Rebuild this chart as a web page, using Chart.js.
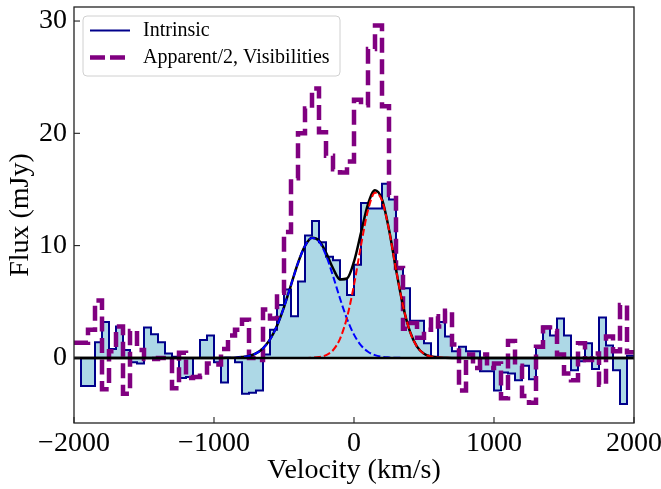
<!DOCTYPE html>
<html><head><meta charset="utf-8">
<script src="https://cdn.jsdelivr.net/npm/chart.js@4.4.0/dist/chart.umd.min.js"></script>
<style>html,body{margin:0;padding:0;background:#fff;}canvas{display:block;}</style>
</head><body>
<canvas id="c" width="661" height="489"></canvas>
<script>
// ---- data (velocities in km/s, flux in mJy) ----
const intrinsicEdges = [-1950,-1900,-1850,-1800,-1750,-1700,-1650,-1600,-1550,-1500,-1450,-1400,-1350,-1300,-1250,-1200,-1150,-1100,-1050,-1000,
 -950,-900,-850,-800,-750,-700,-650,-600,-550,-500,-450,-400,-350,-300,-250,-200,-150,-100,-50,0,
 50,100,150,200,250,300,350,400,450,500,550,600,650,700,750,800,850,900,950,1000,
 1050,1100,1150,1200,1250,1300,1350,1400,1450,1500,1550,1600,1650,1700,1750,1800,1850,1900,1950];
const intrinsicFlux = [-2.5,-2.5,1.4,3.2,0.8,2.8,0.7,-0.4,-0.5,2.7,2.1,1.4,0.4,0.1,-1.8,-1.7,0.0,1.6,2.0,-0.4,
 -2.2,0.0,-0.4,-3.2,-3.1,-2.9,0.3,2.5,4.7,6.1,3.7,6.8,10.9,12.2,10.3,9.0,8.7,7.0,5.6,8.3,
 13.8,13.3,13.3,15.5,14.1,8.0,6.2,3.3,3.3,1.3,0.1,3.2,1.9,0.6,1.0,0.6,0.6,-1.2,-1.2,-2.9,
 -1.3,-1.4,-2.0,-0.7,-1.9,0.9,2.8,2.0,3.5,2.0,-1.1,-0.3,1.3,-1.0,3.6,1.1,-1.1,-4.1,0.2];
const apparentEdges = [-2000,-1950,-1900,-1850,-1800,-1750,-1700,-1650,-1600,-1550,-1500,-1450,-1400,-1350,-1300,-1250,-1200,-1150,-1100,-1050,-1000,
 -950,-900,-850,-800,-750,-700,-650,-600,-550,-500,-450,-400,-350,-300,-250,-200,-150,-100,-50,0,
 50,100,150,200,250,300,350,400,450,500,550,600,650,700,750,800,850,900,950,1000,
 1050,1100,1150,1200,1250,1300,1350,1400,1450,1500,1550,1600,1650,1700,1750,1800,1850,1900,1950];
const apparentHalfFlux = [1.35,1.35,2.5,5.1,-2.8,0.6,2.8,-3.2,2.4,0.7,-0.1,-0.1,0.0,0.0,-2.7,0.45,-1.8,-1.7,-1.6,-0.5,-0.6,
 0.8,2.0,2.5,3.4,0.0,-0.2,4.3,3.5,5.8,11.2,16.0,20.0,22.2,24.0,20.1,18.0,16.8,16.5,17.5,23.0,
 22.5,27.5,29.6,22.4,14.5,8.0,2.6,3.1,1.8,2.5,3.7,2.8,4.2,1.2,-2.9,0.3,-0.9,0.3,-0.9,-0.5,
 -3.6,1.5,-0.7,-3.4,-4.0,1.0,2.7,2.4,0.3,-1.4,-2.0,1.3,-0.2,0.4,-2.4,1.9,0.6,4.7,0.5];
const binWidth = 50;

const fitVelocity = [-2000,-1000,-950,-900,-850,-800,-750,-700,-650,-600,-550,-500,-450,-400,-350,-300,-250,-200,-150,-100,-50,
 0,50,100,150,200,250,300,350,400,450,500,550,600,650,700,2000];
const fitBlueComp = [0,0,0,0.01,0.02,0.07,0.17,0.40,0.85,1.64,2.86,4.52,6.49,8.45,9.97,10.68,10.37,9.13,7.30,5.29,3.47,
 2.07,1.12,0.55,0.24,0.10,0.04,0.01,0,0,0,0,0,0,0,0,0];
const fitRedComp = [0,0,0,0,0,0,0,0,0,0,0,0,0,0,0,0.02,0.07,0.24,0.68,1.70,3.60,
 6.50,10.02,13.15,14.70,14.01,11.39,7.88,4.65,2.33,1.00,0.36,0.12,0.03,0.01,0,0];
const fitTotal = [0,0,0,0.01,0.02,0.07,0.17,0.40,0.85,1.64,2.86,4.52,6.49,8.45,9.97,10.70,10.44,9.37,7.98,6.99,7.07,
 8.57,11.14,13.70,14.94,14.11,11.43,7.89,4.65,2.33,1.00,0.36,0.12,0.03,0.01,0,0];

const xTicks = [-2000,-1000,0,1000,2000];
const xTickLabels = ['\u22122000','\u22121000','0','1000','2000'];
const yTicks = [0,10,20,30];
const yTickLabels = ['0','10','20','30'];
const xRange = [-2000, 2000];
const yRange = [-5.8, 31.25];

// ---- build step paths from the bins (value i spans edge i .. edge i + binWidth) ----
function stepPoints(edges, vals, closeToZero){
  const pts = [];
  if (closeToZero) pts.push({x: edges[0], y: 0});
  for (let i = 0; i < edges.length; i++) pts.push({x: edges[i], y: vals[i]});
  const last = edges[edges.length-1] + binWidth;
  pts.push({x: last, y: vals[vals.length-1]});
  if (closeToZero) pts.push({x: last, y: 0});
  return pts;
}
const zip = (xs, ys) => xs.map((x,i)=>({x, y: ys[i]}));

const SERIF = '"Liberation Serif", "Times New Roman", serif';

const framePlugin = {
  id: 'frame',
  afterDatasetsDraw(chart){
    const {ctx, chartArea: a, scales: {x, y}} = chart;
    ctx.save();
    ctx.strokeStyle = '#222'; ctx.lineWidth = 1.3;
    ctx.strokeRect(a.left, a.top, a.right - a.left, a.bottom - a.top);
    ctx.lineWidth = 1.1;
    xTicks.forEach(v => { const px = x.getPixelForValue(v);
      ctx.beginPath(); ctx.moveTo(px, a.bottom); ctx.lineTo(px, a.bottom - 6); ctx.stroke(); });
    yTicks.forEach(v => { const py = y.getPixelForValue(v);
      ctx.beginPath(); ctx.moveTo(a.left, py); ctx.lineTo(a.left + 6, py); ctx.stroke(); });
    ctx.restore();
  },
  afterDraw(chart){
    const {ctx, chartArea: a} = chart;
    const bx = a.left + 9, by = a.top + 9, bw = 257, bh = 60;
    ctx.save();
    ctx.beginPath();
    if (ctx.roundRect) ctx.roundRect(bx, by, bw, bh, 4); else ctx.rect(bx, by, bw, bh);
    ctx.fillStyle = 'rgba(255,255,255,0.85)'; ctx.fill();
    ctx.strokeStyle = '#d0d0d0'; ctx.lineWidth = 1; ctx.stroke();
    ctx.strokeStyle = '#00008b'; ctx.lineWidth = 2; ctx.setLineDash([]);
    ctx.beginPath(); ctx.moveTo(bx + 7, by + 14.5); ctx.lineTo(bx + 47, by + 14.5); ctx.stroke();
    ctx.strokeStyle = '#800080'; ctx.lineWidth = 4.5; ctx.setLineDash([15, 5]);
    ctx.beginPath(); ctx.moveTo(bx + 7, by + 41.5); ctx.lineTo(bx + 47, by + 41.5); ctx.stroke();
    ctx.setLineDash([]);
    ctx.fillStyle = '#000'; ctx.font = '20px ' + SERIF; ctx.textBaseline = 'middle';
    ctx.fillText('Intrinsic', bx + 60, by + 15);
    ctx.fillText('Apparent/2, Visibilities', bx + 60, by + 42);
    ctx.restore();
  }
};

function noPad(s){ s.paddingTop = 0; s.paddingBottom = 0; s.paddingLeft = 0; s.paddingRight = 0; }

new Chart(document.getElementById('c'), {
  type: 'line',
  data: {
    datasets: [
      { label: 'zero', data: [{x: xRange[0], y: 0}, {x: xRange[1], y: 0}], borderColor: '#000', borderWidth: 2.5,
        pointRadius: 0, fill: false, order: 0 },
      { label: 'red comp', data: zip(fitVelocity, fitRedComp), borderColor: '#ff0000', borderWidth: 2,
        borderDash: [7, 3], cubicInterpolationMode: 'monotone', pointRadius: 0, fill: false, order: 1 },
      { label: 'blue comp', data: zip(fitVelocity, fitBlueComp), borderColor: '#0000ff', borderWidth: 2,
        borderDash: [7, 3], cubicInterpolationMode: 'monotone', pointRadius: 0, fill: false, order: 2 },
      { label: 'fit', data: zip(fitVelocity, fitTotal), borderColor: '#000', borderWidth: 2.5,
        cubicInterpolationMode: 'monotone', pointRadius: 0, fill: false, order: 3 },
      { label: 'Apparent/2, Visibilities', data: stepPoints(apparentEdges, apparentHalfFlux, false),
        stepped: 'before', borderColor: '#800080', borderWidth: 4.5, borderDash: [15, 6.5],
        pointRadius: 0, fill: false, order: 4 },
      { label: 'Intrinsic', data: stepPoints(intrinsicEdges, intrinsicFlux, true),
        stepped: 'before', borderColor: '#00008b', borderWidth: 2, backgroundColor: '#add8e6',
        pointRadius: 0, fill: 'origin', order: 5 }
    ]
  },
  options: {
    responsive: false, animation: false, devicePixelRatio: 1,
    layout: { padding: { left: 0, right: 27, top: 7, bottom: 0 } },
    plugins: { legend: { display: false }, tooltip: { enabled: false } },
    scales: {
      x: {
        type: 'linear', min: xRange[0], max: xRange[1],
        grid: { display: false, drawTicks: false }, border: { display: false },
        afterBuildTicks: s => { s.ticks = xTicks.map(v => ({value: v})); },
        afterFit: s => { s.height = 66; noPad(s); },
        ticks: { color: '#000', font: { family: SERIF, size: 28 }, padding: 4, maxRotation: 0,
          callback: (v) => xTickLabels[xTicks.indexOf(v)] },
        title: { display: true, text: 'Velocity (km/s)', color: '#000', font: { family: SERIF, size: 28 }, padding: { top: 0, bottom: 2 } }
      },
      y: {
        type: 'linear', min: yRange[0], max: yRange[1],
        grid: { display: false, drawTicks: false }, border: { display: false },
        afterBuildTicks: s => { s.ticks = yTicks.map(v => ({value: v})); },
        afterFit: s => { s.width = 74; noPad(s); },
        ticks: { color: '#000', font: { family: SERIF, size: 28 }, padding: 7,
          callback: (v) => yTickLabels[yTicks.indexOf(v)] },
        title: { display: true, text: 'Flux (mJy)', color: '#000', font: { family: SERIF, size: 28 }, padding: { top: 4, bottom: 0 } }
      }
    }
  },
  plugins: [framePlugin]
});
</script>
</body></html>
